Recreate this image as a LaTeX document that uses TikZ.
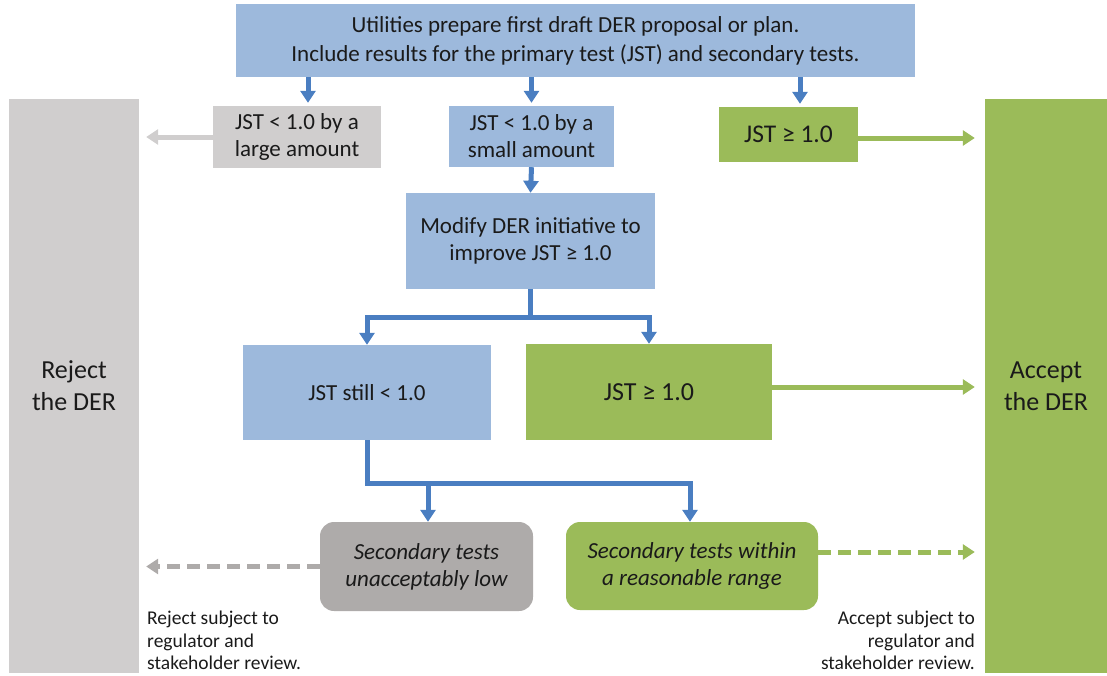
\documentclass[tikz,border=0pt]{standalone}
\usepackage{fontspec}
\setmainfont{Carlito}
\usetikzlibrary{arrows.meta}
\definecolor{boxblue}{HTML}{9DB9DC}
\definecolor{flowblue}{HTML}{4A7EC1}
\definecolor{accgreen}{HTML}{9BBB59}
\definecolor{rejgray}{HTML}{D0CECE}
\definecolor{lowgray}{HTML}{AEABAA}
\definecolor{txt}{HTML}{1A1A1A}
\tikzset{
  box/.style={rectangle, inner sep=0pt, align=center, text=txt,
    font=\fontsize{23}{27}\selectfont},
  bluebox/.style={box, fill=boxblue},
  greenbox/.style={box, fill=accgreen},
  graybox/.style={box, fill=rejgray},
  roundbox/.style={box, rounded corners=14pt, font=\fontsize{23}{27}\selectfont\itshape},
  flow/.style={draw=flowblue, line width=5pt,
    -{Triangle[length=12pt,width=15pt]}},
  togreen/.style={draw=accgreen, line width=5pt,
    -{Triangle[length=12pt,width=15pt]}},
  togray/.style={draw=rejgray, line width=5pt,
    -{Triangle[length=12pt,width=15pt]}},
  dashgreen/.style={togreen, dash pattern=on 13pt off 7pt},
  dashgray/.style={draw=lowgray, line width=5pt, dash pattern=on 13pt off 7pt,
    -{Triangle[length=12pt,width=15pt]}},
  note/.style={inner sep=0pt, text=txt, font=\fontsize{19.5}{22.5}\selectfont}
}
\begin{document}
\begin{tikzpicture}[x=1pt,y=-1pt]
\useasboundingbox (0,0) rectangle (1107,675);

% outcome bars
\node[graybox, minimum width=130pt, minimum height=574pt,
  font=\fontsize{26}{32}\selectfont] (reject) at (74,386) {Reject\\the DER};
\node[greenbox, minimum width=122pt, minimum height=574pt,
  font=\fontsize{26}{32}\selectfont] (accept) at (1046,386) {Accept\\the DER};

% first step
\node[bluebox, minimum width=679pt, minimum height=73pt,
  font=\fontsize{23}{29}\selectfont] (top) at (575.5,40.5)
  {Utilities prepare first draft DER proposal or plan.\\
   Include results for the primary test (JST) and secondary tests.};

% first JST outcomes
\node[graybox, minimum width=168pt, minimum height=62pt] (large) at (297,137)
  {JST < 1.0 by a\\large amount};
\node[bluebox, minimum width=165pt, minimum height=61pt] (small) at (531.5,136.5)
  {JST < 1.0 by a\\small amount};
\node[greenbox, minimum width=139pt, minimum height=55pt,
  font=\fontsize{25.5}{28}\selectfont] (pass) at (788.5,134.5) {JST ≥ 1.0};

% modification loop
\node[bluebox, minimum width=249pt, minimum height=96pt] (modify) at (530.5,241)
  {Modify DER initiative to\\improve JST ≥ 1.0};
\node[bluebox, minimum width=248pt, minimum height=95pt] (still) at (367,392.5)
  {JST still < 1.0};
\node[greenbox, minimum width=246pt, minimum height=96pt,
  font=\fontsize{26}{28}\selectfont] (passmod) at (649,392) {JST ≥ 1.0};

% secondary tests
\node[roundbox, fill=lowgray, minimum width=213pt, minimum height=89pt] (low)
  at (426.5,566.5) {Secondary tests\\unacceptably low};
\node[roundbox, fill=accgreen, minimum width=252pt, minimum height=88pt] (range)
  at (692,566) {Secondary tests within\\a reasonable range};

% notes under the dashed arrows
\node[note, anchor=north west, align=left] (rejnote) at (147,611)
  {Reject subject to\\regulator and\\stakeholder review.};
\node[note, anchor=north east, align=right] (accnote) at (975,611)
  {Accept subject to\\regulator and\\stakeholder review.};

% arrow start points on the right-hand edges
\coordinate (passout) at ([yshift=-3.5pt]pass.east);
\coordinate (passmodout) at ([yshift=5pt]passmod.east);
\coordinate (rangeout) at ([yshift=14pt]range.east);
\coordinate (rejin) at ([xshift=7pt]reject.east);
\coordinate (accin) at ([xshift=-10pt]accept.west);

% flow from the first step
\draw[flow] ([xshift=11pt]large.north |- top.south) -- ([xshift=11pt,yshift=3pt]large.north);
\draw[flow] (small.north |- top.south) -- ([yshift=3pt]small.north);
\draw[flow] ([xshift=11.5pt]pass.north |- top.south) -- ([xshift=11.5pt,yshift=3pt]pass.north);
\draw[flow] (small.south) -- (modify.north);

% branches
\draw[flow] (modify.south) -- ++(0,28) -| (still.north);
\draw[flow] (modify.south) -- ++(0,28) -| (passmod.north);
\draw[flow] (still.south) -- ++(0,43) -| ([xshift=1.5pt]low.north);
\draw[flow] (still.south) -- ++(0,43) -| ([xshift=-2pt]range.north);

% to the outcome bars
\draw[togray] (large.west) -- (rejin |- large.west);
\draw[togreen] (passout) -- (accin |- passout);
\draw[togreen] (passmodout) -- (accin |- passmodout);
\draw[dashgray] (low.west) -- (rejin |- low.west);
\draw[dashgreen] (rangeout) -- (accin |- rangeout);
\end{tikzpicture}
\end{document}
